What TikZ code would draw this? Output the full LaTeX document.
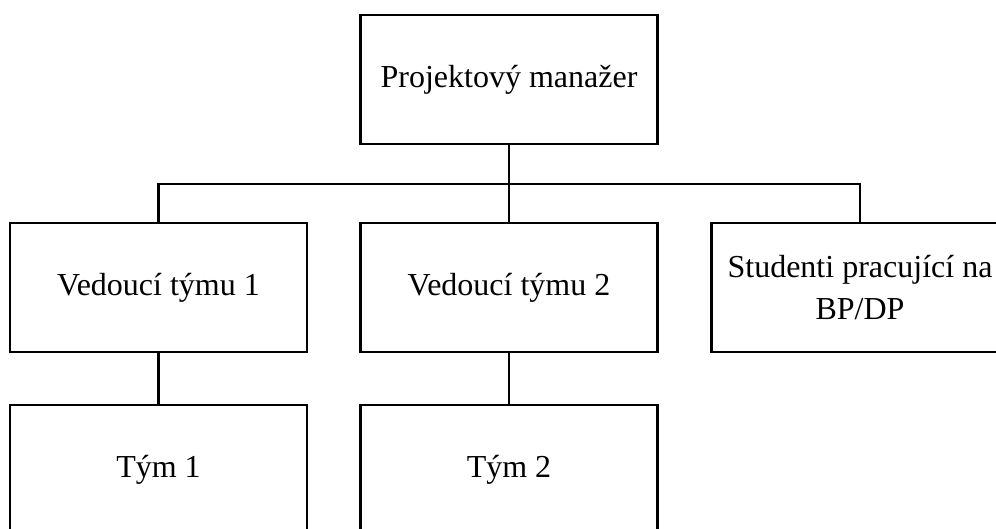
\documentclass[tikz,border=0pt]{standalone}
\usepackage{fontspec}
\setmainfont{Liberation Serif}
\begin{document}
\begin{tikzpicture}[x=1pt,y=-1pt,
  box/.style={draw, line width=2.5pt, minimum width=297pt, minimum height=129pt, inner sep=0pt, align=center, font=\fontsize{32}{42}\selectfont},
  link/.style={line width=2.1pt}]
\useasboundingbox (0,0) rectangle (996,529);
\node[box] (pm) at (509,79.5) {Projektový manažer};
\node[box] (v1) at (158.5,287.5) {Vedoucí týmu 1};
\node[box] (v2) at (509,287.5) {Vedoucí týmu 2};
\node[box] (st) at (860,287.5) {Studenti pracující na\\BP/DP};
\node[box] (t1) at (158.5,469.5) {Tým 1};
\node[box] (t2) at (509,469.5) {Tým 2};
\coordinate (bus) at (509,184);
\draw[link] (pm.south) -- (v2.north);
\draw[link] (v1.north) |- (bus) -| (st.north);
\draw[link] (v1.south) -- (t1.north);
\draw[link] (v2.south) -- (t2.north);
\end{tikzpicture}
\end{document}
